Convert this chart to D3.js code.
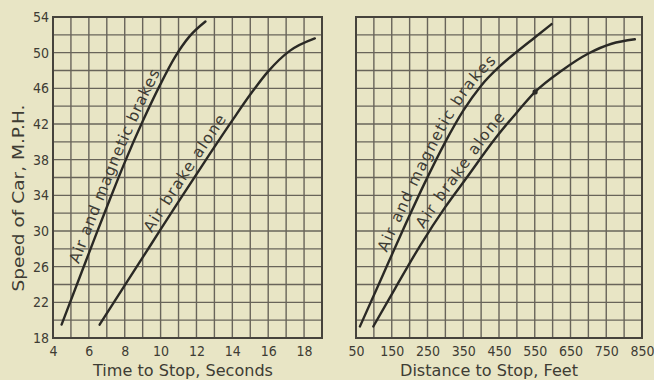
<!DOCTYPE html>
<html>
<head>
<meta charset="utf-8">
<script src="https://cdn.jsdelivr.net/npm/d3@7/dist/d3.min.js"></script>
<style>
  html, body { margin: 0; padding: 0; background: #e8e5c5; }
  svg { display: block; }
  text { font-family: "DejaVu Sans", sans-serif; fill: #3e3c34; }
</style>
</head>
<body>
<svg id="chart" width="654" height="380"></svg>
<script>
// ---- data ----
const speedTicks = [18, 22, 26, 30, 34, 38, 42, 46, 50, 54];
const timeTicks = [4, 6, 8, 10, 12, 14, 16, 18];
const distTicks = [50, 150, 250, 350, 450, 550, 650, 750, 850];

// Speed (M.P.H.) vs time to stop (seconds)
const magneticByTime = [[4.48,19.5],[5.6,25.4],[6.4,29.6],[7.2,33.7],[8.0,37.7],[9.0,42.3],[10.0,46.5],[10.8,49.5],[11.6,51.8],[12.5,53.5]];
const airAloneByTime = [[6.6,19.5],[8.0,23.9],[9.5,28.6],[11.0,33.3],[12.5,37.9],[14.0,42.4],[15.0,45.3],[16.0,47.9],[17.2,50.2],[18.6,51.6]];

// Speed (M.P.H.) vs distance to stop (feet)
const magneticByDist = [[61,19.3],[120,24.6],[180,30.0],[240,35.2],[300,40.0],[350,43.5],[400,46.3],[450,48.4],[500,50.1],[550,51.7],[597,53.2]];
const airAloneByDist = [[98.5,19.3],[160,23.6],[230,28.4],[300,32.7],[360,36.0],[440,40.4],[500,43.3],[551,45.6],[626,48.0],[700,49.9],[765,51.0],[830,51.5]];
const distMarkers = [[551,45.6]];

// curve labels: text, speed where the label starts, speed where it ends
const labelNames = ["Air and magnetic brakes", "Air brake alone"];
const timeLabelSpan = [[26.0, 47.5], [29.4, 42.3]];
const distLabelSpan = [[27.3, 48.6], [29.8, 42.4]];

// ---- drawing ----
const svg = d3.select("#chart");
const defs = svg.append("defs");
const y = d3.scaleLinear().domain([18, 54]).range([338, 17]);
const xT = d3.scaleLinear().domain([4, 19]).range([53, 322]);
const xD = d3.scaleLinear().domain([50, 850]).range([356, 642]);

const gridColor = "#68645a";
const inkColor = "#2a2925";
const textColor = "#3b3a33";
let pathId = 0;

function labelAlong(g, pathNode, name, span, offset) {
  const L = pathNode.getTotalLength();
  const N = 400;
  const pts = d3.range(N + 1).map(i => pathNode.getPointAtLength(L * i / N));
  const off = pts.map((p, i) => {
    const a = pts[Math.max(0, i - 1)], b = pts[Math.min(N, i + 1)];
    const dx = b.x - a.x, dy = b.y - a.y, n = Math.hypot(dx, dy) || 1;
    return [p.x + offset * dy / n, p.y - offset * dx / n, y.invert(p.y)];
  });
  const cum = [0];
  for (let i = 1; i < off.length; i++) {
    cum.push(cum[i - 1] + Math.hypot(off[i][0] - off[i - 1][0], off[i][1] - off[i - 1][1]));
  }
  const idx = s => { let i = off.findIndex(p => p[2] >= s); return i < 0 ? off.length - 1 : i; };
  const s0 = cum[idx(span[0])], s1 = cum[idx(span[1])];
  const id = "lp" + (pathId++);
  defs.append("path").attr("id", id).attr("d", "M" + off.map(p => p[0] + "," + p[1]).join("L"));
  const fs = 15.5;
  const t = g.append("text").attr("font-size", fs).attr("fill", textColor);
  t.append("textPath").attr("href", "#" + id).attr("startOffset", s0).text(name);
  const natural = t.node().getComputedTextLength();
  const target = s1 - s0;
  if (target >= natural) {
    t.attr("letter-spacing", (target - natural) / name.length);
  } else {
    t.attr("font-size", fs * target / natural);
  }
}

function panel(x, xStep, curves, spans, markers) {
  const g = svg.append("g");
  const [x0, x1] = x.domain();
  const xs = d3.range(x0, x1 + xStep / 2, xStep);
  const ys = d3.range(18, 54.001, 2);
  g.selectAll("line.v").data(xs).join("line")
    .attr("x1", d => x(d)).attr("x2", d => x(d))
    .attr("y1", y(18)).attr("y2", y(54))
    .attr("stroke", gridColor).attr("stroke-width", 1.4);
  g.selectAll("line.h").data(ys).join("line")
    .attr("y1", d => y(d)).attr("y2", d => y(d))
    .attr("x1", x(x0)).attr("x2", x(x1))
    .attr("stroke", gridColor).attr("stroke-width", 1.4);
  g.append("rect")
    .attr("x", x(x0)).attr("y", y(54))
    .attr("width", x(x1) - x(x0)).attr("height", y(18) - y(54))
    .attr("fill", "none").attr("stroke", "#46433c").attr("stroke-width", 2);
  const line = d3.line().x(d => x(d[0])).y(d => y(d[1])).curve(d3.curveMonotoneX);
  curves.forEach((c, i) => {
    const p = g.append("path").attr("d", line(c))
      .attr("fill", "none").attr("stroke", inkColor).attr("stroke-width", 2.4)
      .attr("stroke-linecap", "round");
    labelAlong(g, p.node(), labelNames[i], spans[i], 5.5);
  });
  g.selectAll("circle.m").data(markers).join("circle")
    .attr("cx", d => x(d[0])).attr("cy", d => y(d[1])).attr("r", 2.6)
    .attr("fill", inkColor);
  return g;
}

panel(xT, 1, [magneticByTime, airAloneByTime], timeLabelSpan, []);
panel(xD, 50, [magneticByDist, airAloneByDist], distLabelSpan, distMarkers);

// axes
function styleAxis(sel) {
  sel.select(".domain").remove();
  sel.selectAll("text")
    .attr("font-size", 14).attr("fill", textColor)
    .style("font-family", "'DejaVu Sans Condensed', 'DejaVu Sans', sans-serif");
}
svg.append("g").attr("transform", "translate(49,0)")
  .call(d3.axisLeft(y).tickValues(speedTicks).tickSize(0).tickPadding(0))
  .call(styleAxis);
svg.append("g").attr("transform", "translate(0,346)")
  .call(d3.axisBottom(xT).tickValues(timeTicks).tickSize(0).tickPadding(0))
  .call(styleAxis);
svg.append("g").attr("transform", "translate(0,346)")
  .call(d3.axisBottom(xD).tickValues(distTicks).tickSize(0).tickPadding(0))
  .call(styleAxis);

// titles
svg.append("text").attr("x", 183).attr("y", 376).attr("text-anchor", "middle")
  .attr("font-size", 15).attr("fill", textColor)
  .attr("textLength", 180).attr("lengthAdjust", "spacingAndGlyphs")
  .text("Time to Stop, Seconds");
svg.append("text").attr("x", 489).attr("y", 376).attr("text-anchor", "middle")
  .attr("font-size", 15).attr("fill", textColor)
  .attr("textLength", 178).attr("lengthAdjust", "spacingAndGlyphs")
  .text("Distance to Stop, Feet");
svg.append("text").attr("transform", "translate(24,198) rotate(-90)").attr("text-anchor", "middle")
  .attr("font-size", 15).attr("fill", textColor)
  .attr("textLength", 187).attr("lengthAdjust", "spacingAndGlyphs")
  .text("Speed of Car, M.P.H.");
</script>
</body>
</html>
